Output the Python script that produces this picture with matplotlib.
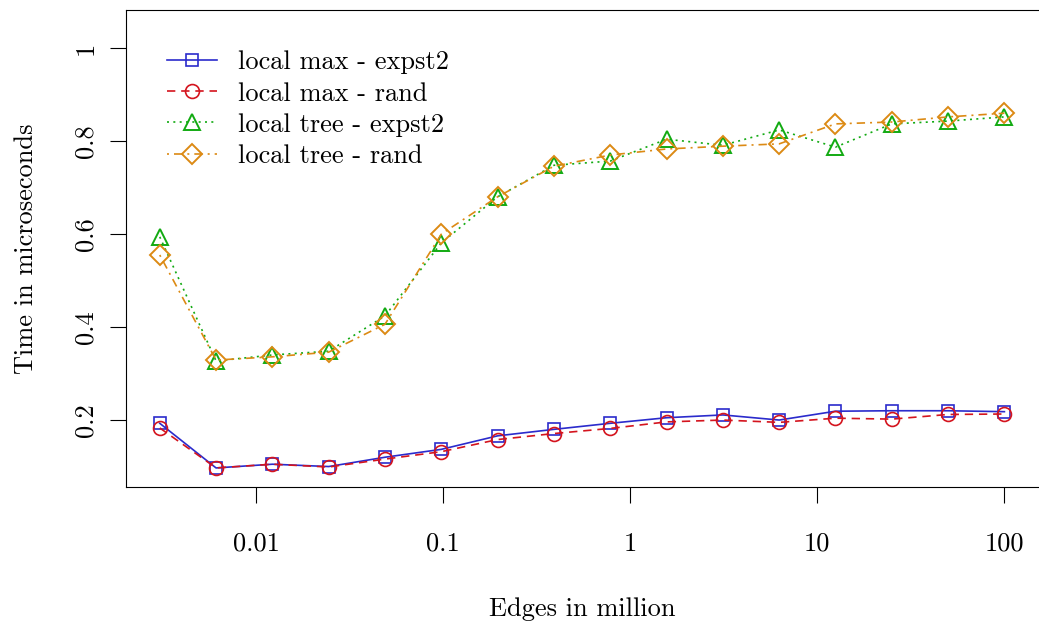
import numpy as np
import matplotlib
matplotlib.use("Agg")
import matplotlib.pyplot as plt

plt.rcParams['font.family'] = ['cmr10', 'DejaVu Serif']
plt.rcParams['axes.formatter.use_mathtext'] = True

# graph sizes in million edges (halving from 100 down)
edges = [0.00305, 0.0061, 0.0122, 0.0244, 0.0488, 0.0977, 0.195, 0.391,
         0.781, 1.5625, 3.125, 6.25, 12.5, 25, 50, 100]

max_expst2 = [0.193, 0.097, 0.105, 0.100, 0.120, 0.137, 0.166, 0.180,
              0.193, 0.205, 0.211, 0.200, 0.219, 0.220, 0.220, 0.218]
max_rand = [0.183, 0.097, 0.105, 0.099, 0.116, 0.132, 0.158, 0.171,
            0.182, 0.196, 0.200, 0.195, 0.204, 0.202, 0.212, 0.213]
tree_expst2 = [0.594, 0.327, 0.340, 0.348, 0.424, 0.581, 0.680, 0.748,
               0.757, 0.804, 0.791, 0.824, 0.787, 0.837, 0.843, 0.852]
tree_rand = [0.555, 0.329, 0.336, 0.346, 0.406, 0.600, 0.680, 0.746,
             0.770, 0.783, 0.789, 0.794, 0.837, 0.841, 0.852, 0.860]

labels = ['local max - expst2', 'local max - rand',
          'local tree - expst2', 'local tree - rand']
xticks = [0.01, 0.1, 1, 10, 100]
xtick_labels = ['0.01', '0.1', '1', '10', '100']
yticks = [0.2, 0.4, 0.6, 0.8, 1.0]
ytick_labels = ['0.2', '0.4', '0.6', '0.8', '1']

fig = plt.figure(figsize=(10.39, 6.23), dpi=100)
ax = fig.add_axes([0.1213, 0.2183, 0.8778, 0.7657])

lw = 1.2
ax.plot(edges, max_expst2, color='#2b2bcc', lw=lw, ls='-', marker='s',
        ms=9, mfc='none', mew=1.2, label=labels[0])
ax.plot(edges, max_rand, color='#d4141e', lw=lw, dashes=(5, 3.5), marker='o',
        ms=10, mfc='none', mew=1.2, label=labels[1])
ax.plot(edges, tree_expst2, color='#12aa12', lw=lw, dashes=(1.2, 2.6), marker='^',
        ms=12, mfc='none', mew=1.4, label=labels[2])
ax.plot(edges, tree_rand, color='#dc8a14', lw=lw, dashes=(1.2, 3, 5, 3), marker='D',
        ms=10, mfc='none', mew=1.4, label=labels[3])

ax.set_xscale('log')
ax.set_xlim(10 ** -2.696, 10 ** 2.18)
ax.set_ylim(0.056, 1.082)
ax.set_xticks(xticks)
ax.set_xticklabels(xtick_labels)
ax.minorticks_off()
ax.set_yticks(yticks)
ax.set_yticklabels(ytick_labels, rotation=90, va='center')
ax.tick_params(labelsize=19, length=11.5, width=0.8, direction='out')
ax.tick_params(axis='x', pad=21)
ax.tick_params(axis='y', pad=9)
for s in ax.spines.values():
    s.set_linewidth(0.8)
# box runs off the right edge of the page
ax.spines['right'].set_visible(False)

ax.set_xlabel('Edges in million', fontsize=19, labelpad=30)
ax.set_ylabel('Time in microseconds', fontsize=19, labelpad=26)

ax.legend(loc='upper left', bbox_to_anchor=(0.045, 0.9145), frameon=False,
          fontsize=19, borderpad=0, borderaxespad=0, handlelength=1.9,
          handletextpad=0.8, labelspacing=0.28)

fig.savefig('out.png', dpi=100)
